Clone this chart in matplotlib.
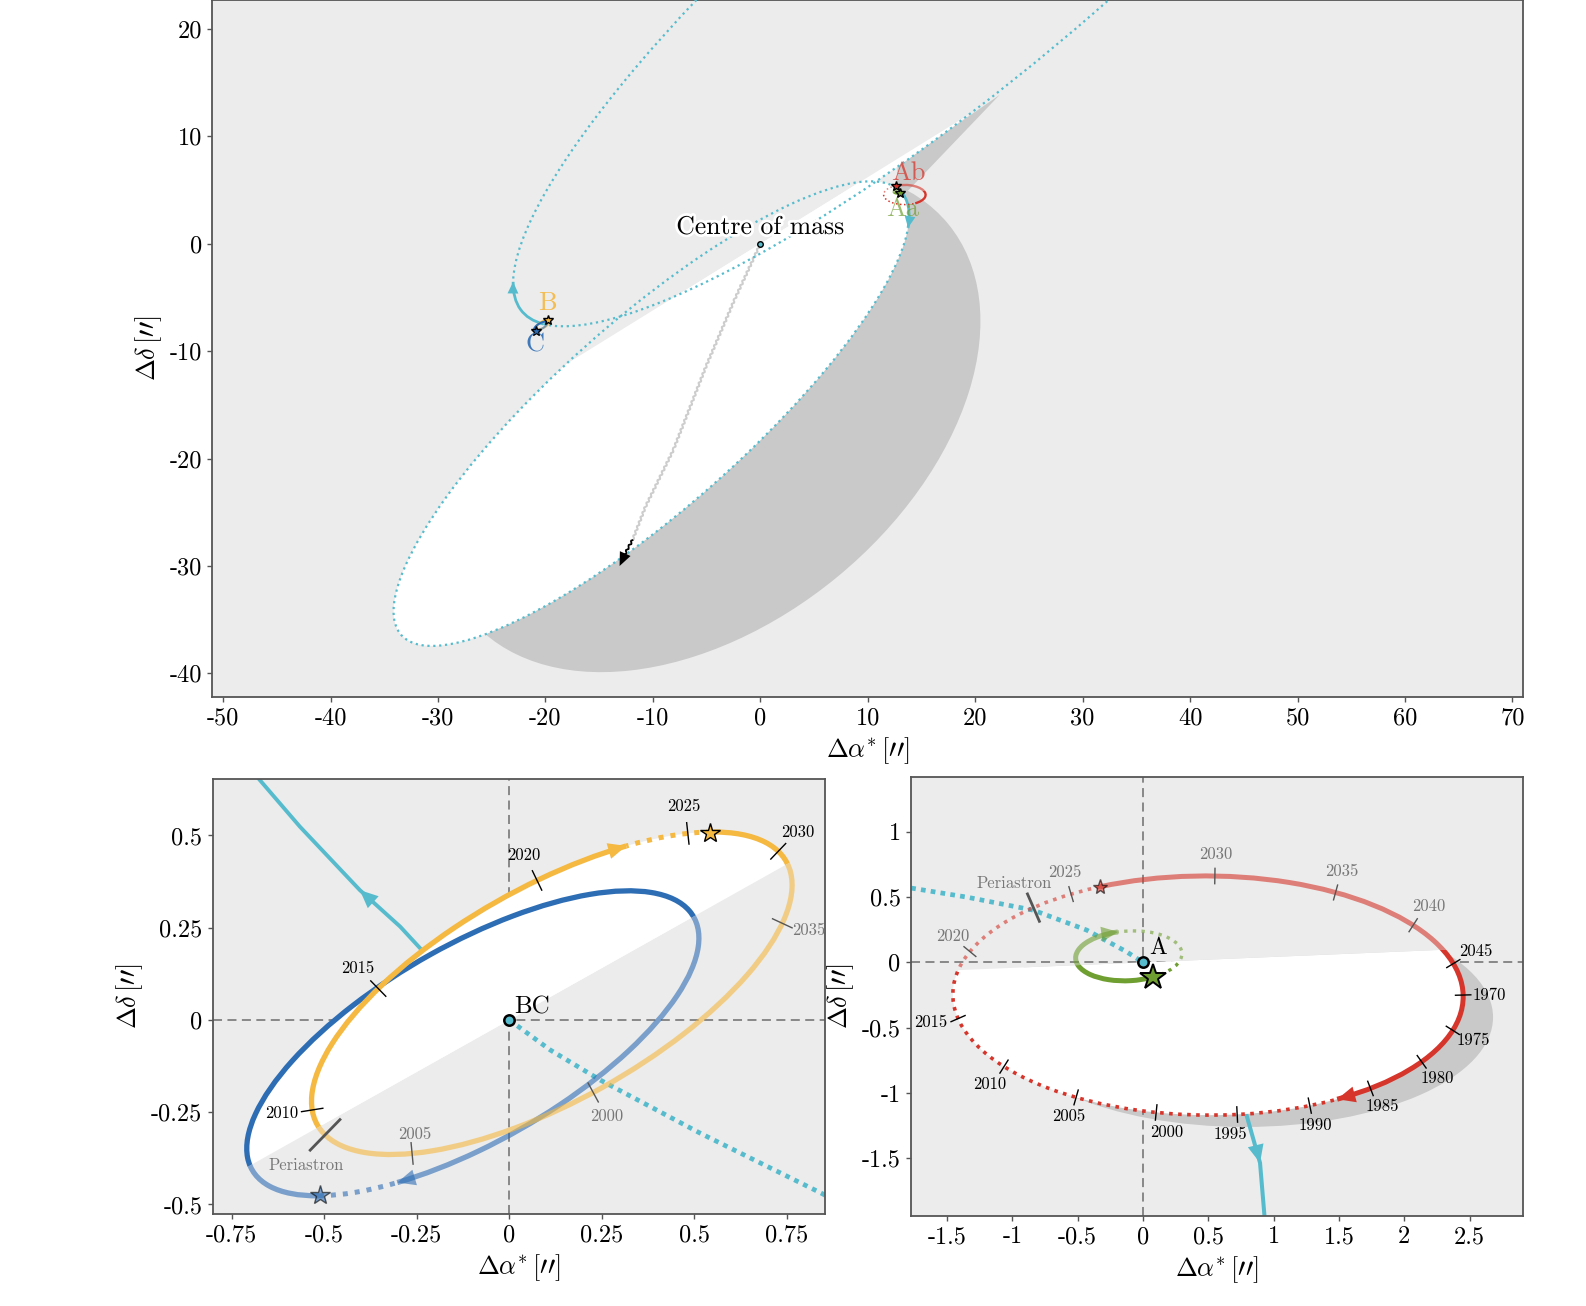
import numpy as np
import matplotlib
matplotlib.use("Agg")
import matplotlib.pyplot as plt
from matplotlib.patches import Arc, Ellipse, Polygon
from matplotlib.ticker import MultipleLocator, FuncFormatter
import matplotlib.patheffects as pe

plt.rcParams["font.family"] = ["cmr10", "DejaVu Serif"]
plt.rcParams["mathtext.fontset"] = "cm"
plt.rcParams["axes.unicode_minus"] = False
plt.rcParams["axes.formatter.use_mathtext"] = True

BG = "#ececec"
SHADE = "#c9c9c9"
CYAN = "#56bccd"
RED = "#d6352b"
GREEN = "#6f9e31"
YELLOW = "#f5b841"
BLUE = "#2d6db4"
GREYTXT = "#777777"
FADE = 0.6

# ---------------- values (arcsec) ----------------
# A system: Ab relative to A (bottom right panel)
ab_pts = [(0.564, 0.655), (1.48, 0.54), (2.07, 0.285), (2.37, -0.01), (2.45, -0.25),
          (2.37, -0.52), (2.13, -0.76), (1.75, -0.97), (1.28, -1.10), (0.72, -1.16),
          (0.105, -1.14), (-0.52, -1.04), (-1.07, -0.80), (-1.41, -0.43), (-1.44, -0.11),
          (-1.31, 0.08), (-0.84, 0.42), (-0.56, 0.53), (-0.33, 0.58), (0.0, 0.63)]
ab_years = [1970, 1975, 1980, 1985, 1990, 1995, 2000, 2005, 2010, 2015, 2020,
            2025, 2030, 2035, 2040, 2045]
ab_tick_pts = [(2.45, -0.25), (2.37, -0.52), (2.13, -0.76), (1.75, -0.97), (1.28, -1.10),
               (0.72, -1.16), (0.105, -1.14), (-0.52, -1.04), (-1.07, -0.80), (-1.41, -0.43),
               (-1.31, 0.08), (-0.56, 0.53), (0.55, 0.655), (1.48, 0.54), (2.07, 0.285),
               (2.37, -0.01)]
ab_label_pts = [(2.65, -0.25), (2.53, -0.60), (2.25, -0.89), (1.83, -1.105), (1.32, -1.25),
                (0.666, -1.32), (0.178, -1.30), (-0.565, -1.18), (-1.17, -0.93), (-1.626, -0.46),
                (-1.456, 0.196), (-0.597, 0.69), (0.557, 0.83), (1.526, 0.70), (2.184, 0.43),
                (2.546, 0.083)]
ab_peri = (-0.84, 0.42)
ab_peri_label = (-0.99, 0.607)
ab_now = (-0.33, 0.58)
ab_arrow = (1.495, -1.054)

aa_pts = [(-0.51, 0.056), (-0.43, -0.084), (-0.2, -0.136), (0.074, -0.115),
          (0.296, 0.056), (-0.19, 0.234)]
aa_now = (0.074, -0.115)
aa_arrow = (-0.19, 0.23)

a_cyan_past = [(-1.85, 0.58), (-1.78, 0.57), (-1.35, 0.50), (-0.84, 0.40), (-0.43, 0.247),
               (-0.125, 0.081), (0.0, 0.0)]
a_cyan_next = [(0.0, 0.0), (0.45, -0.62), (0.79, -1.16), (0.896, -1.535), (0.93, -1.94),
               (0.94, -2.05)]
a_cyan_arrow = [(0.85, -1.35), (0.896, -1.535)]
a_node_slope = 0.042
a_shadow = ((0.78, -0.42), 3.8, 1.68, 0.0)

# BC system: B and C relative to BC (bottom left panel)
b_pts = [(-0.539, -0.226), (-0.476, -0.316), (-0.295, -0.37), (-0.025, -0.303), (0.245, -0.19),
         (0.515, 0.0), (0.731, 0.253), (0.763, 0.334), (0.75, 0.434), (0.542, 0.506),
         (0.317, 0.474), (-0.025, 0.325), (-0.35, 0.09)]
b_years = [2000, 2005, 2010, 2015, 2020, 2025, 2030, 2035]
b_tick_pts = [(0.228, -0.20), (-0.27, -0.37), (-0.535, -0.245), (-0.35, 0.085),
              (0.075, 0.377), (0.48, 0.503), (0.72, 0.453), (0.731, 0.26)]
b_label_pts = [(0.264, -0.262), (-0.256, -0.309), (-0.616, -0.254), (-0.409, 0.141),
               (0.04, 0.445), (0.472, 0.579), (0.778, 0.508), (0.81, 0.242)]
b_peri = (-0.502, -0.314)
b_peri_label = (-0.55, -0.395)
b_now = (0.542, 0.506)
b_arrow = (0.317, 0.474)

c_pts = [(-0.71, -0.334), (-0.70, -0.40), (-0.512, -0.474), (-0.304, -0.443), (-0.025, -0.325),
         (0.218, -0.17), (0.407, 0.0), (0.506, 0.226), (0.497, 0.289), (0.317, 0.348),
         (-0.025, 0.271), (-0.35, 0.09)]
c_now = (-0.512, -0.474)
c_arrow = (-0.304, -0.443)

bc_cyan_past = [(0.0, 0.0), (0.11, -0.081), (0.246, -0.163), (0.516, -0.307), (0.844, -0.47),
                (0.9, -0.5)]
bc_cyan_next = [(0.0, 0.0), (-0.237, 0.19), (-0.295, 0.253), (-0.404, 0.352), (-0.566, 0.524),
                (-0.674, 0.65), (-0.7, 0.68)]
bc_cyan_arrow = [(-0.295, 0.253), (-0.404, 0.352)]
bc_node_slope = 0.563

# wide orbit (top panel)
top_a_pts = [(0.66, 2.54), (-8.8, -3.0), (-14.9, -8.3), (-20.2, -13.9), (-27.8, -21.4),
             (-32.4, -28.8), (-34.5, -34.4), (-31.3, -37.5), (-24.0, -35.7), (-12.6, -28.3),
             (-1.25, -20.4), (10.2, -5.2), (14.0, 1.3), (13.4, 4.1)]
top_bc_pts = [(-21.9, -2.7), (-21.8, -4.6), (-21.6, -6.1), (-21.9, -1.3), (-21.4, 1.06),
              (-20.4, 3.9), (-17.2, 10.3), (-12.6, 16.5), (-5.0, 22.7), (32.4, 22.7),
              (22.3, 13.9), (12.94, 7.5), (2.56, 1.0), (-5.05, -3.04), (-12.6, -7.1),
              (-14.1, -8.0), (-17.2, -8.3), (-19.0, -8.1), (-20.34, -7.6)]
top_shadow_pts = [(-23.8, -37.6), (-16.5, -39.9), (-1.25, -36.3), (10.2, -28.5), (17.8, -17.6),
                  (20.3, -5.2), (19.2, -0.56), (16.1, 3.2)]
top_sliver = [(22.28, 13.87), (12.8, 7.3), (12.6, 5.2), (13.6, 4.8)]
top_node_slope = 0.62
a_top = (12.93, 4.82)
bc_top = (-20.34, -7.6)
top_a_arrow = (13.9, 1.6)
top_bc_arrow = (-21.9, -2.7)
com_path = [(0.0, 0.0), (-2.4, -5.2), (-5.05, -11.4), (-8.1, -19.2), (-10.7, -24.5), (-11.9, -27.6)]
com_path_end = [(-11.9, -27.6), (-12.3, -28.3), (-12.6, -28.9)]
com_arrow = [(-12.6, -28.9), (-13.1, -30.0)]
top_labels = [("Ab", (13.8, 6.6), RED, 0.75), ("Aa", (13.2, 3.2), GREEN, 0.7),
              ("B", (-19.8, -5.5), YELLOW, 0.9), ("C", (-21.0, -9.4), BLUE, 0.9)]


# ---------------- helpers ----------------
def fit_ellipse(pts):
    p = np.asarray(pts, float)
    m = p.mean(axis=0)
    s = p.std()
    q = (p - m) / s
    x, y = q[:, 0], q[:, 1]
    M = np.column_stack([x * x, x * y, y * y, x, y, np.ones_like(x)])
    A, B, C, D, E, F = np.linalg.svd(M)[2][-1]
    Q = np.array([[A, B / 2], [B / 2, C]])
    c = np.linalg.solve(2 * Q, [-D, -E])
    f0 = c @ Q @ c + D * c[0] + E * c[1] + F
    lam, vec = np.linalg.eigh(Q)
    r = np.sqrt(-f0 / lam)
    ang = np.degrees(np.arctan2(vec[1, 0], vec[0, 0]))
    return (tuple(m + s * c), 2 * s * r[0], 2 * s * r[1], ang)


def geom(ell):
    (cx, cy), w, h, ang = ell
    r = np.radians(ang)
    R = np.array([[np.cos(r), -np.sin(r)], [np.sin(r), np.cos(r)]])
    return np.array([cx, cy]), w / 2, h / 2, R


def par(ell, p):
    c, a, b, R = geom(ell)
    u, v = R.T @ (np.asarray(p, float) - c)
    return np.arctan2(v / b, u / a)


def pt_on(ell, t):
    c, a, b, R = geom(ell)
    pos = c + R @ [a * np.cos(t), b * np.sin(t)]
    tan = R @ [-a * np.sin(t), b * np.cos(t)]
    nrm = R @ [np.cos(t) / a, np.sin(t) / b]
    return pos, tan / np.hypot(*tan), nrm / np.hypot(*nrm)


def tdeg(ell, t):
    _, a, b, _ = geom(ell)
    return np.degrees(np.arctan2(b * np.sin(t), a * np.cos(t)))


def shifted(ell, off):
    (cx, cy), w, h, ang = ell
    return ((cx + off[0], cy + off[1]), w, h, ang)


def halfplane(ax, node, side, L):
    k, (ox, oy) = node[0], node[1]
    far = oy + side * 4 * L
    return Polygon([(ox - L, oy - k * L), (ox + L, oy + k * L), (ox + L, far), (ox - L, far)],
                   closed=True, transform=ax.transData)


def side_of(p, node):
    k, (ox, oy) = node[0], node[1]
    return 1 if p[1] - oy - k * (p[0] - ox) > 0 else -1


def head(ax, tail, tip, color, alpha, ms, hl, hw, z):
    ax.annotate("", xy=tip, xytext=tail, zorder=z,
                arrowprops=dict(arrowstyle=f"-|>,head_length={hl},head_width={hw}",
                                color=color, lw=0, shrinkA=0, shrinkB=0,
                                mutation_scale=ms, alpha=alpha))


def draw_orbit(ax, ell, now, arrow, color, lw, dlw, dls, node=None, L=10, arr=None, z=3):
    c, a, b, R = geom(ell)
    t_now, t_arr = par(ell, now), par(ell, arrow)
    d_now, d_arr = tdeg(ell, t_now), tdeg(ell, t_arr)
    passes = [(None, 1.0)] if node is None else [(node[2], 1.0), (-node[2], FADE)]
    for side, alpha in passes:
        clip = None if side is None else halfplane(ax, node, side, L)
        for t1, t2, ls, w in ((d_arr, d_now, "-", lw), (d_now, d_arr, dls, dlw)):
            arc = Arc(tuple(c), 2 * a, 2 * b, angle=ell[3], theta1=t1, theta2=t2,
                      color=color, lw=w, ls=ls, alpha=alpha, zorder=z)
            ax.add_patch(arc)
            if clip is not None:
                arc.set_clip_path(clip)
    if arr is not None:
        pos, tan, _ = pt_on(ell, t_arr)
        alpha = 1.0 if node is None or side_of(pos, node) == node[2] else FADE
        head(ax, pos + tan * arr[0], pos, color, alpha, arr[1], arr[2], arr[3], z + 0.5)


def orbit_ticks(ax, ell, pts, labels, label_pts, node, L, fs=12, lw=1.0):
    for p, lab, lp in zip(pts, labels, label_pts):
        pos, _, nrm = pt_on(ell, par(ell, p))
        near = side_of(pos, node) == node[2]
        tcol = "black" if near else "#555555"
        lcol = "black" if near else GREYTXT
        ax.plot([pos[0] - nrm[0] * L / 2, pos[0] + nrm[0] * L / 2],
                [pos[1] - nrm[1] * L / 2, pos[1] + nrm[1] * L / 2],
                color=tcol, lw=lw, zorder=4.5, solid_capstyle="butt")
        ax.text(lp[0], lp[1], str(lab), ha="center", va="center", fontsize=fs,
                color=lcol, zorder=5, clip_on=True)


def star(ax, p, color, ms, node, mew=1.0, z=6):
    alpha = 1.0 if node is None or side_of(p, node) == node[2] else FADE
    ax.plot([p[0]], [p[1]], marker="*", ms=ms, mfc=color, mec="black", mew=mew,
            alpha=alpha, zorder=z, ls="none")


def style_axes(ax, step):
    ax.set_facecolor(BG)
    for s in ax.spines.values():
        s.set_color("#555555")
        s.set_linewidth(1.3)
    ax.xaxis.set_major_locator(MultipleLocator(step))
    ax.yaxis.set_major_locator(MultipleLocator(step))
    fmt = FuncFormatter(lambda v, p: f"{v:g}")
    ax.xaxis.set_major_formatter(fmt)
    ax.yaxis.set_major_formatter(fmt)
    ax.tick_params(direction="out", length=3.5, width=1, color="#555555", labelsize=17.5, pad=4)
    ax.set_xlabel(r"$\Delta\alpha^{*}\,[\prime\prime]$", fontsize=19)
    ax.set_ylabel(r"$\Delta\delta\,[\prime\prime]$", fontsize=19)


ab_ell = fit_ellipse(ab_pts)
aa_ell = fit_ellipse(aa_pts)
b_ell = fit_ellipse(b_pts)
c_ell = fit_ellipse(c_pts)
topa_ell = fit_ellipse(top_a_pts)
topbc_ell = fit_ellipse(top_bc_pts)
topsh_ell = fit_ellipse(top_shadow_pts)

fig = plt.figure(figsize=(15.86, 13.06), dpi=100)
ax_top = fig.add_axes([0.1339, 0.4663, 0.8265, 0.5337])
ax_bc = fig.add_axes([0.1341, 0.0704, 0.3861, 0.3331])
ax_a = fig.add_axes([0.5744, 0.0691, 0.3861, 0.3357])

# ================= top panel =================
ax = ax_top
style_axes(ax, 10)
ax.set_xlim(-51, 71)
ax.set_ylim(-42.2, 22.7)
tnode = (top_node_slope, (0.0, 0.0), -1)
clip = halfplane(ax, tnode, -1, 500)
# the shadow only shows on the lower right side of the wide orbit's long axis
major = (np.tan(np.radians(topa_ell[3])), topa_ell[0], -1)
sh = Ellipse(*topsh_ell[:3], angle=topsh_ell[3], fc=SHADE, ec="none", zorder=1)
ax.add_patch(sh)
sh.set_clip_path(halfplane(ax, major, -1, 500))
ax.add_patch(Polygon(top_sliver, closed=True, fc=SHADE, ec="none", zorder=1))
for e in (topa_ell, topbc_ell):
    wp = Ellipse(*e[:3], angle=e[3], fc="white", ec="none", zorder=2)
    ax.add_patch(wp)
    wp.set_clip_path(clip)

cx, cy = zip(*com_path)
ln, = ax.plot(cx, cy, color="#cdcdcd", lw=1.4, zorder=3)
ln.set_sketch_params(1.0, 5, 1)
cx, cy = zip(*com_path_end)
ln, = ax.plot(cx, cy, color="black", lw=1.3, zorder=3)
ln.set_sketch_params(1.0, 5, 1)
head(ax, com_arrow[0], com_arrow[1], "black", 1.0, 14, 0.7, 0.3, 3.5)

draw_orbit(ax, topa_ell, a_top, top_a_arrow, CYAN, 2.0, 1.6, ":", None,
           arr=(0.3, 14, 0.6, 0.28))
draw_orbit(ax, topbc_ell, bc_top, top_bc_arrow, CYAN, 2.0, 1.6, ":", None,
           arr=(0.3, 14, 0.6, 0.28))

anode = (a_node_slope, a_top, -1)
bnode = (bc_node_slope, bc_top, 1)
draw_orbit(ax, shifted(ab_ell, a_top), (ab_now[0] + a_top[0], ab_now[1] + a_top[1]),
           (ab_arrow[0] + a_top[0], ab_arrow[1] + a_top[1]), RED, 1.7, 1.1, ":", anode, L=50, z=4)
draw_orbit(ax, shifted(aa_ell, a_top), (aa_now[0] + a_top[0], aa_now[1] + a_top[1]),
           (aa_arrow[0] + a_top[0], aa_arrow[1] + a_top[1]), GREEN, 1.7, 1.1, ":", anode, L=50, z=4)
draw_orbit(ax, shifted(b_ell, bc_top), (b_now[0] + bc_top[0], b_now[1] + bc_top[1]),
           (b_arrow[0] + bc_top[0], b_arrow[1] + bc_top[1]), YELLOW, 1.5, 1.0, ":", bnode, L=50, z=4)
draw_orbit(ax, shifted(c_ell, bc_top), (c_now[0] + bc_top[0], c_now[1] + bc_top[1]),
           (c_arrow[0] + bc_top[0], c_arrow[1] + bc_top[1]), BLUE, 1.5, 1.0, ":", bnode, L=50, z=4)
star(ax, (ab_now[0] + a_top[0], ab_now[1] + a_top[1]), RED, 7, None)
star(ax, (aa_now[0] + a_top[0], aa_now[1] + a_top[1]), GREEN, 7, None)
star(ax, (b_now[0] + bc_top[0], b_now[1] + bc_top[1]), YELLOW, 7, None)
star(ax, (c_now[0] + bc_top[0], c_now[1] + bc_top[1]), BLUE, 7, None)

ax.plot([0], [0], marker="o", ms=4, mfc=CYAN, mec="black", mew=1, zorder=6)
ax.text(0, 0.45, "Centre of mass", ha="center", va="bottom", fontsize=18.5, zorder=7,
        path_effects=[pe.withStroke(linewidth=4, foreground="white")])
for txt, p, col, al in top_labels:
    ax.text(p[0], p[1], txt, ha="center", va="center", fontsize=19, color=col, alpha=al, zorder=7)

# ================= bottom left: B and C =================
ax = ax_bc
style_axes(ax, 0.25)
ax.set_xlim(-0.8016, 0.853)
ax.set_ylim(-0.526, 0.653)
node = (bc_node_slope, (0.0, 0.0), 1)
ax.axhline(0, color="#808080", lw=1.3, ls=(0, (5, 3)), zorder=1)
ax.axvline(0, color="#808080", lw=1.3, ls=(0, (5, 3)), zorder=1)
cx, cy = zip(*bc_cyan_past)
ax.plot(cx, cy, color=CYAN, lw=3.4, ls=(0, (1, 1.1)), zorder=1.8)
cx, cy = zip(*bc_cyan_next)
ax.plot(cx, cy, color=CYAN, lw=2.8, zorder=1.8, solid_capstyle="butt")
head(ax, bc_cyan_arrow[0], bc_cyan_arrow[1], CYAN, 1.0, 20, 0.65, 0.29, 1.9)
clip = halfplane(ax, node, 1, 20)
for e in (b_ell, c_ell):
    wp = Ellipse(*e[:3], angle=e[3], fc="white", ec="none", zorder=2)
    ax.add_patch(wp)
    wp.set_clip_path(clip)
draw_orbit(ax, c_ell, c_now, c_arrow, BLUE, 3.8, 3.6, (0, (1, 1.4)), node, L=20,
           arr=(0.01, 20, 0.65, 0.29))
draw_orbit(ax, b_ell, b_now, b_arrow, YELLOW, 3.8, 3.6, (0, (1, 1.4)), node, L=20,
           arr=(0.01, 20, 0.65, 0.29))
orbit_ticks(ax, b_ell, b_tick_pts, b_years, b_label_pts, node, 0.062)
orbit_ticks(ax, b_ell, [b_peri], ["Periastron"], [b_peri_label], node, 0.123, lw=2.0)
star(ax, b_now, YELLOW, 15, node)
star(ax, c_now, BLUE, 15, node)
ax.plot([0], [0], marker="o", ms=7.5, mfc=CYAN, mec="black", mew=1.8, zorder=6)
ax.text(0.012, 0.004, "BC", ha="left", va="bottom", fontsize=18, zorder=7)

# ================= bottom right: Aa and Ab =================
ax = ax_a
style_axes(ax, 0.5)
ax.set_xlim(-1.776, 2.912)
ax.set_ylim(-1.940, 1.417)
node = (a_node_slope, (0.0, 0.0), -1)
clip = halfplane(ax, node, -1, 20)
sh = Ellipse(*a_shadow[:3], angle=a_shadow[3], fc=SHADE, ec="none", zorder=1)
ax.add_patch(sh)
sh.set_clip_path(clip)
ax.axhline(0, color="#808080", lw=1.3, ls=(0, (5, 3)), zorder=1.2)
ax.axvline(0, color="#808080", lw=1.3, ls=(0, (5, 3)), zorder=1.2)
cx, cy = zip(*a_cyan_past)
ax.plot(cx, cy, color=CYAN, lw=3.4, ls=(0, (1, 1.1)), zorder=1.8)
cx, cy = zip(*a_cyan_next)
ax.plot(cx, cy, color=CYAN, lw=2.9, zorder=1.8, solid_capstyle="butt")
head(ax, a_cyan_arrow[0], a_cyan_arrow[1], CYAN, 1.0, 20, 0.65, 0.29, 1.9)
wp = Ellipse(*ab_ell[:3], angle=ab_ell[3], fc="white", ec="none", zorder=2)
ax.add_patch(wp)
wp.set_clip_path(clip)
draw_orbit(ax, ab_ell, ab_now, ab_arrow, RED, 3.6, 2.6, (0, (1, 1.5)), node, L=20,
           arr=(0.03, 20, 0.65, 0.29))
draw_orbit(ax, aa_ell, aa_now, aa_arrow, GREEN, 3.6, 2.4, (0, (1, 1.6)), node, L=20,
           arr=(0.02, 20, 0.6, 0.27))
orbit_ticks(ax, ab_ell, ab_tick_pts, ab_years, ab_label_pts, node, 0.128)
orbit_ticks(ax, ab_ell, [ab_peri], ["Periastron"], [ab_peri_label], node, 0.25, lw=2.0)
star(ax, ab_now, RED, 11, node)
star(ax, aa_now, GREEN, 19, node, mew=1.4)
ax.plot([0], [0], marker="o", ms=7.5, mfc=CYAN, mec="black", mew=1.8, zorder=6)
ax.text(0.05, 0.025, "A", ha="left", va="bottom", fontsize=17, zorder=7)

fig.savefig("out.png", dpi=100)
